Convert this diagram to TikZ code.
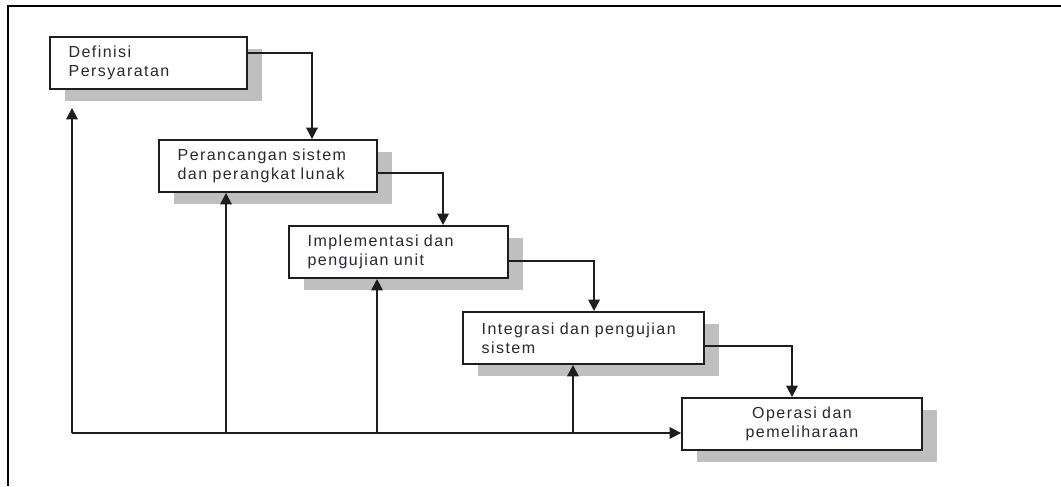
\documentclass[tikz,border=0pt]{standalone}
\usepackage{fontspec}
\newfontfamily\boxfont{Liberation Sans}[LetterSpace=9]
\newcommand\phasefont{\boxfont\fontsize{12pt}{14.5pt}\selectfont\spaceskip=0.42em\relax}
\usepackage{tikz}
\usetikzlibrary{arrows.meta,positioning,calc,shadows}
\definecolor{inkBlack}{RGB}{30, 30, 30}
\definecolor{inkText}{RGB}{40, 40, 50}
\definecolor{shadowGray}{RGB}{191, 191, 191}

\begin{document}
\begin{tikzpicture}[
        x=0.75pt, y=-0.75pt,
        phase/.style={draw=inkBlack, fill=white, line width=1.4pt, minimum height=39pt, inner xsep=14pt, inner ysep=2pt, align=left, text=inkText,
            font=\phasefont,
            drop shadow={shadow xshift=11.25pt, shadow yshift=-9pt, fill=shadowGray, opacity=1}},
        arr/.style={-{Triangle[length=8.5pt, width=8.5pt]}, line width=1.4pt, color=inkBlack},
        frame/.style={line width=1.6pt, color=black}
    ]
        \useasboundingbox (0,0) rectangle (1061,486);
        \draw[frame] (8,486) -- (8,6) -- (1061,6);

        % Phases
        \node[phase, text width=119.75pt] (def) at (148.5, 63) {Definisi\\Persyaratan};
        \node[phase, text width=135.5pt] (design) at (268, 166) {Perancangan sistem\\dan perangkat lunak};
        \node[phase, text width=136.25pt] (impl) at (398.5, 252) {Implementasi dan\\pengujian unit};
        \node[phase, text width=152.75pt] (integ) at (583.5, 338) {Integrasi dan pengujian\\sistem};
        \node[phase, text width=152pt, align=center] (ops) at (802, 424) {Operasi dan\\pemeliharaan};

        % Cascade
        \draw[arr] ([yshift=7.5pt]def.east) -| ([xshift=33pt]design.north);
        \draw[arr] ([yshift=-5.25pt]design.east) -| ([xshift=33.4pt]impl.north);
        \draw[arr] ([yshift=-6.75pt]impl.east) -| ([xshift=7.9pt]integ.north);
        \draw[arr] ([yshift=-6pt]integ.east) -| ([xshift=-7.5pt]ops.north);

        % Feedback
        \coordinate (back) at (72, 433);
        \draw[arr] (back) -- (back -| ops.west);
        \draw[arr, shorten >=13.5pt] (back) -- (back |- def.south);
        \draw[arr] ([xshift=-31.5pt]design.south |- back) -- ([xshift=-31.5pt]design.south);
        \draw[arr] ([xshift=-16.1pt]impl.south |- back) -- ([xshift=-16.1pt]impl.south);
        \draw[arr] ([xshift=-7.9pt]integ.south |- back) -- ([xshift=-7.9pt]integ.south);
    \end{tikzpicture}
\end{document}
